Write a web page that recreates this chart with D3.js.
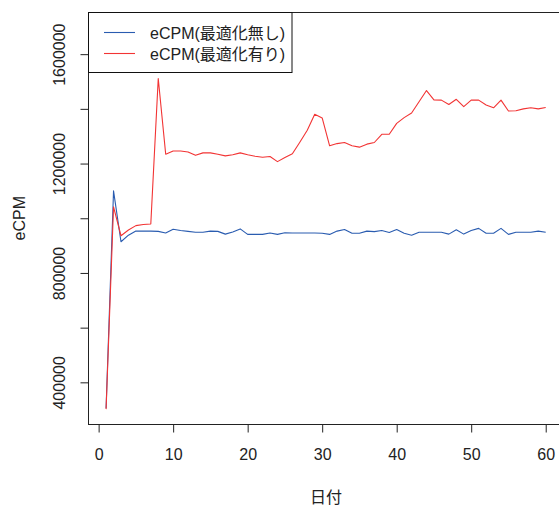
<!DOCTYPE html>
<html><head><meta charset="utf-8">
<script src="https://cdn.jsdelivr.net/npm/d3@7"></script>
<style>body{margin:0;background:#fff}svg{display:block}</style>
</head><body>
<script>
const days = d3.range(1, 61);
const ecpmNoOpt = [305000,1100000,914000,938000,953000,953000,953000,952000,946000,960000,955000,952000,949000,949000,953000,952000,942000,950000,961000,941000,941000,941000,946000,941000,947000,946000,946000,946000,946000,945000,941000,953000,959000,945000,945000,953000,951000,955000,948000,959000,945000,938000,949000,949000,949000,949000,942000,958000,942000,955000,963000,945000,945000,963000,941000,949000,949000,949000,953000,949000];
const ecpmOpt = [302000,1042000,936000,957000,973000,977000,979000,1511000,1234000,1246000,1246000,1242000,1230000,1239000,1239000,1234000,1228000,1232000,1239000,1232000,1227000,1223000,1226000,1207000,1222000,1236000,1278000,1322000,1380000,1367000,1265000,1273000,1277000,1265000,1260000,1271000,1277000,1307000,1307000,1347000,1368000,1385000,1426000,1467000,1433000,1432000,1416000,1435000,1408000,1432000,1432000,1414000,1404000,1432000,1392000,1393000,1400000,1404000,1400000,1405000];
const xTicks = [0,10,20,30,40,50,60];
const yTicks = [400000,600000,800000,1000000,1200000,1400000,1600000];
const yTickLabels = ["400000","","800000","","1200000","","1600000"];
const seriesNames = ["eCPM(最適化無し)","eCPM(最適化有り)"];
const seriesColors = ["#2a5cb0","#f23434"];

const W = 559, H = 505;
const font = "'Liberation Sans', Arial, 'Noto Sans CJK JP', sans-serif";
const svg = d3.select("body").append("svg").attr("width", W).attr("height", H)
  .style("font-family", font);

const x = d3.scaleLinear().domain([1 - 59*0.04, 60 + 59*0.04]).range([88.5, 563.3]);
const y = d3.scaleLinear().domain([244000, 1756000]).range([425, 11.5]);

const L = 88.5, R = 563.3, T = 11.5, B = 425;

// lines
const line = d3.line().x((d,i) => x(days[i])).y(d => y(d));
[ecpmNoOpt, ecpmOpt].forEach((s, k) => {
  svg.append("path").datum(s).attr("d", line).attr("fill", "none")
    .attr("stroke", seriesColors[k]).attr("stroke-width", 1.1).attr("stroke-linejoin", "round");
});

// box
svg.append("rect").attr("x", L).attr("y", 12.5).attr("width", R - L).attr("height", 424.5 - 12.5)
  .attr("fill", "none").attr("stroke", "#222").attr("stroke-width", 1);

// x axis
const xa = svg.append("g").attr("transform", `translate(0,${424.5})`)
  .call(d3.axisBottom(x).tickValues(xTicks).tickSize(8).tickSizeOuter(0).tickPadding(16).tickFormat(d3.format("d")));
xa.select(".domain").remove();
xa.selectAll("line").attr("stroke", "#222");
xa.selectAll("text").attr("font-size", 16).attr("fill", "#222").attr("font-family", font);

// y axis
const ya = svg.append("g").attr("transform", `translate(${L},0)`)
  .call(d3.axisLeft(y).tickValues(yTicks).tickSize(8).tickSizeOuter(0).tickFormat((d,i) => yTickLabels[i]));
ya.select(".domain").remove();
ya.selectAll("line").attr("stroke", "#222");
ya.selectAll("text").attr("font-size", 16).attr("fill", "#222").attr("font-family", font)
  .attr("text-anchor", "middle").attr("dy", null).attr("x", null)
  .attr("transform", "translate(-23.5,0) rotate(-90)");

// axis titles
svg.append("text").attr("x", (L + R) / 2).attr("y", 503).attr("text-anchor", "middle")
  .attr("font-size", 16).attr("fill", "#222").text("日付");
svg.append("text").attr("transform", `translate(25,${(T + B) / 2}) rotate(-90)`).attr("text-anchor", "middle")
  .attr("font-size", 16).attr("fill", "#222").text("eCPM");

// legend
const lg = svg.append("g");
lg.append("rect").attr("x", L).attr("y", 12.5).attr("width", 292 - L).attr("height", 72.5 - 12.5)
  .attr("fill", "#fff").attr("stroke", "#111").attr("stroke-width", 1);
seriesNames.forEach((n, k) => {
  const cy = 32.5 + k * 21;
  lg.append("line").attr("x1", 104).attr("x2", 135).attr("y1", cy).attr("y2", cy)
    .attr("stroke", seriesColors[k]).attr("stroke-width", 1.1);
  lg.append("text").attr("x", 150).attr("y", cy + 6).attr("font-size", 16).attr("fill", "#222").text(n);
});
</script>
</body></html>
